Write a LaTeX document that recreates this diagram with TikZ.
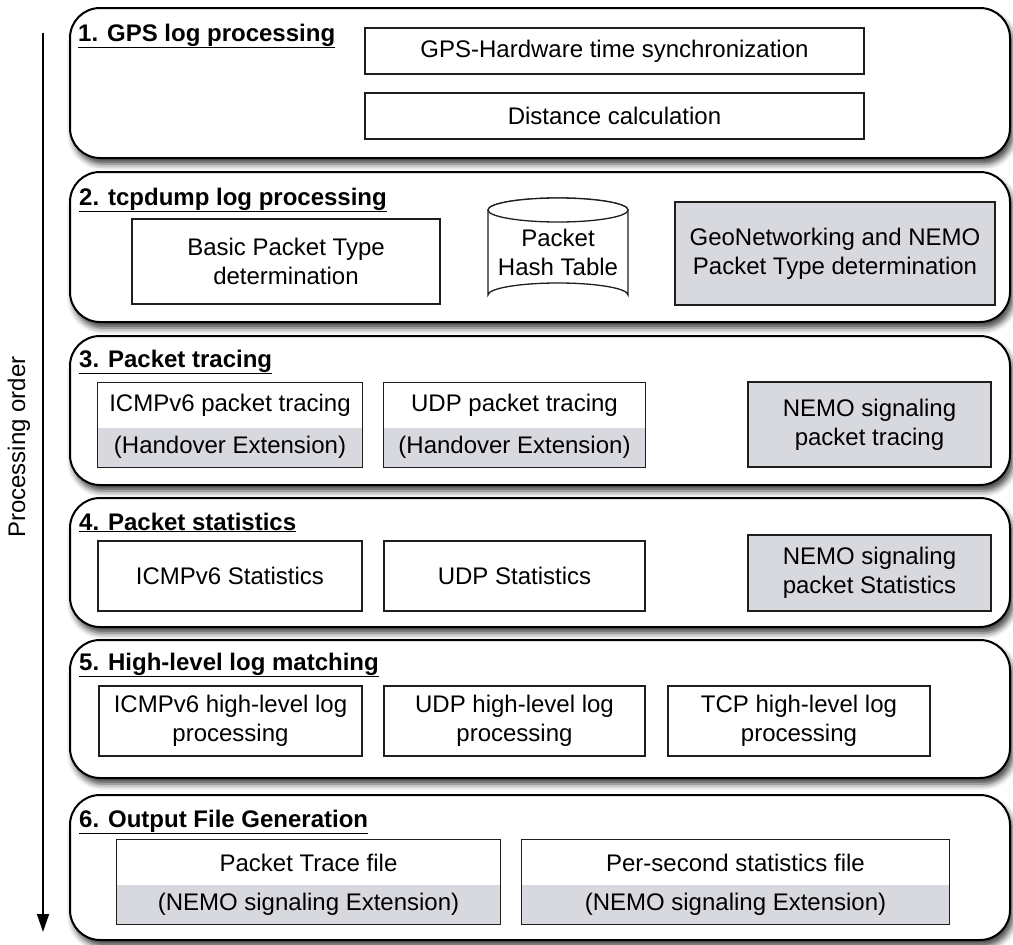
\documentclass[tikz,border=0pt]{standalone}
\usepackage{fontspec}
\setmainfont{Liberation Sans}
\usetikzlibrary{arrows.meta,shadows.blur}
\definecolor{boxgray}{RGB}{216,217,223}
\definecolor{edge}{RGB}{30,30,30}
\begin{document}
\begin{tikzpicture}[x=1pt,y=-1pt,
  panel/.style={draw=black, line width=2pt, fill=white, rounded corners=30pt,
    minimum width=940pt, inner sep=0pt,
    blur shadow={shadow xshift=3pt, shadow yshift=-6pt, shadow blur radius=6pt, shadow opacity=75}},
  title/.style={anchor=base west, inner sep=0pt, font=\fontsize{24}{29}\selectfont\bfseries},
  box/.style={draw=edge, line width=1.3pt, fill=white, inner sep=0pt, align=center,
    font=\fontsize{24}{29}\selectfont},
  graybox/.style={box, fill=boxgray},
  part/.style={inner sep=0pt, align=center, font=\fontsize{24}{29}\selectfont},
  graypart/.style={part, fill=boxgray},
  frame/.style={draw=edge, line width=1.3pt},
  cyl/.style={draw=edge, line width=1.3pt, fill=white}
]
\useasboundingbox (0,0) rectangle (1013,945);

% processing order arrow
\coordinate (ordtop) at (43,33);
\coordinate (ordbot) at (43,932);
\draw[line width=1.5pt, -{Triangle[length=18pt,width=12pt]}] (ordtop) -- (ordbot);
\node[rotate=90, inner sep=0pt, font=\fontsize{24}{29}\selectfont] (ordlbl) at (19,447) {Processing order};

% panels
\node[panel, minimum height=150pt] (p1) at (540,83) {};
\node[panel, minimum height=150pt] (p2) at (540,247) {};
\node[panel, minimum height=149pt] (p3) at (540,410.5) {};
\node[panel, minimum height=129pt] (p4) at (540,562.5) {};
\node[panel, minimum height=138pt] (p5) at (540,709) {};
\node[panel, minimum height=145pt] (p6) at (540,867.5) {};

% titles
\node[title] (t1) at (78,41) {\underline{1. GPS log processing}};
\node[title] (t2) at (79,205) {\underline{2. tcpdump log processing}};
\node[title] (t3) at (79,367) {\underline{3. Packet tracing}};
\node[title] (t4) at (79,530) {\underline{4. Packet statistics}};
\node[title] (t5) at (79,670) {\underline{5. High-level log matching}};
\node[title] (t6) at (79,827) {\underline{6. Output File Generation}};

% panel 1
\node[box, minimum width=499pt, minimum height=46pt] (gpssync) at (614.5,51) {GPS-Hardware time synchronization};
\node[box, minimum width=499pt, minimum height=46pt] (dist) at (614.5,116) {Distance calculation};

% panel 2
\node[box, minimum width=308pt, minimum height=85pt] (basic) at (286,261.5) {Basic Packet Type\\determination};
\draw[cyl] (488,210) -- (488,295) arc[start angle=180, end angle=360, x radius=70, y radius=12]
  -- (628,210) arc[start angle=0, end angle=-180, x radius=70, y radius=12] -- cycle;
\draw[cyl] (558,210) ellipse[x radius=70, y radius=12];
\node[part] (hash) at (558,252) {Packet\\Hash Table};
\node[graybox, minimum width=320pt, minimum height=103pt] (geo) at (835,253.5) {GeoNetworking and NEMO\\Packet Type determination};

% panel 3
\node[part, fill=white, minimum width=264pt, minimum height=45pt] (icmpt) at (230,405.5) {ICMPv6 packet tracing};
\node[graypart, minimum width=264pt, minimum height=39pt] (icmpth) at (230,447.5) {(Handover Extension)};
\draw[frame] (icmpt.north west) rectangle (icmpth.south east);
\node[part, fill=white, minimum width=261pt, minimum height=45pt] (udpt) at (514.5,405.5) {UDP packet tracing};
\node[graypart, minimum width=261pt, minimum height=39pt] (udpth) at (514.5,447.5) {(Handover Extension)};
\draw[frame] (udpt.north west) rectangle (udpth.south east);
\node[graybox, minimum width=243pt, minimum height=85pt] (nemot) at (869.5,424.5) {NEMO signaling\\packet tracing};

% panel 4
\node[box, minimum width=264pt, minimum height=70pt] (icmps) at (230,576) {ICMPv6 Statistics};
\node[box, minimum width=261pt, minimum height=70pt] (udps) at (514.5,576) {UDP Statistics};
\node[graybox, minimum width=243pt, minimum height=76pt] (nemos) at (869.5,573) {NEMO signaling\\packet Statistics};

% panel 5
\node[box, minimum width=263pt, minimum height=70pt] (icmph) at (230.5,721) {ICMPv6 high-level log\\processing};
\node[box, minimum width=261pt, minimum height=70pt] (udph) at (514.5,721) {UDP high-level log\\processing};
\node[box, minimum width=262pt, minimum height=70pt] (tcph) at (799,721) {TCP high-level log\\processing};

% panel 6
\node[part, fill=white, minimum width=383pt, minimum height=45pt] (trace) at (308.5,862.5) {Packet Trace file};
\node[graypart, minimum width=383pt, minimum height=39pt] (tracee) at (308.5,904.5) {(NEMO signaling Extension)};
\draw[frame] (trace.north west) rectangle (tracee.south east);
\node[part, fill=white, minimum width=427pt, minimum height=45pt] (persec) at (735.5,862.5) {Per-second statistics file};
\node[graypart, minimum width=427pt, minimum height=39pt] (persece) at (735.5,904.5) {(NEMO signaling Extension)};
\draw[frame] (persec.north west) rectangle (persece.south east);
\end{tikzpicture}
\end{document}
